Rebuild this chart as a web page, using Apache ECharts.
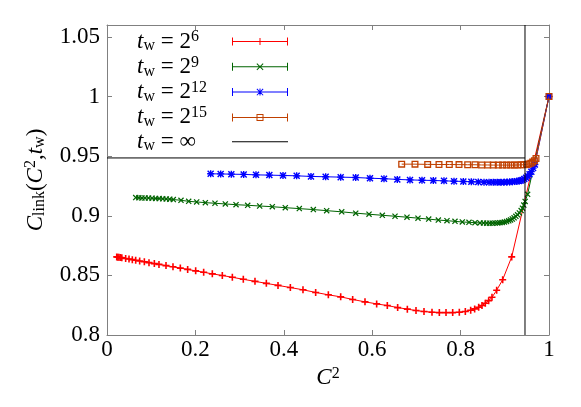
<!DOCTYPE html>
<html>
<head>
<meta charset="utf-8">
<script src="https://cdn.jsdelivr.net/npm/echarts@6/dist/echarts.min.js"></script>
<style>
  html, body { margin: 0; padding: 0; background: #fff; }
  #main { width: 581px; height: 407px; }
</style>
</head>
<body>
<div id="main"></div>
<script>
// C_link(C^2, t_w) curves as [C^2, C_link]
const tw6 = [
  [0.022, 0.8655], [0.0245, 0.8653], [0.027, 0.8652], [0.030, 0.8650], [0.0335, 0.8647],
  [0.0422, 0.8642], [0.0498, 0.8637], [0.0573, 0.8632], [0.0649, 0.8627], [0.0739, 0.8621],
  [0.0845, 0.8614], [0.095, 0.8607], [0.1071, 0.8599], [0.1176, 0.8592], [0.1335, 0.8582],
  [0.1493, 0.8572], [0.1659, 0.8561], [0.1825, 0.8550], [0.2006, 0.8538], [0.2187, 0.8526],
  [0.2383, 0.8513], [0.2609, 0.8499], [0.2836, 0.8484], [0.3084, 0.8467], [0.3348, 0.8450],
  [0.3605, 0.8433], [0.3869, 0.8416], [0.4148, 0.8398], [0.4434, 0.8379], [0.4721, 0.8357],
  [0.5008, 0.8337], [0.5287, 0.8320], [0.5558, 0.8298], [0.5837, 0.8278], [0.6101, 0.8261],
  [0.6342, 0.8247], [0.6576, 0.8230], [0.6795, 0.8217], [0.6991, 0.8205], [0.7172, 0.8197],
  [0.7353, 0.8191], [0.7519, 0.8188], [0.7670, 0.8188], [0.7821, 0.8188], [0.7971, 0.8191],
  [0.8107, 0.8197], [0.8228, 0.8208], [0.8318, 0.8219], [0.8409, 0.8233], [0.8484, 0.8247],
  [0.8559, 0.8266], [0.8635, 0.8288], [0.8710, 0.8316], [0.8816, 0.8375], [0.8952, 0.8464],
  [0.9156, 0.8655], [1.0, 1.0]
];
const tw9 = [
  [0.065, 0.9153], [0.072, 0.9152], [0.079, 0.9150], [0.086, 0.9149], [0.094, 0.9148],
  [0.102, 0.9147], [0.110, 0.9145], [0.118, 0.9144], [0.126, 0.9142], [0.134, 0.9141],
  [0.142, 0.9139], [0.150, 0.9136], [0.1674, 0.9130], [0.1848, 0.9121], [0.2029, 0.9116],
  [0.2225, 0.9110], [0.2443, 0.9105], [0.2677, 0.9099], [0.2919, 0.9093], [0.3183, 0.9088],
  [0.3454, 0.9082], [0.3740, 0.9076], [0.4034, 0.9068], [0.4351, 0.9060], [0.4668, 0.9052],
  [0.4970, 0.9043], [0.5310, 0.9033], [0.5627, 0.9022], [0.5928, 0.9013], [0.6229, 0.9004],
  [0.6516, 0.8996], [0.6787, 0.8988], [0.7036, 0.8980], [0.7278, 0.8972], [0.7496, 0.8964],
  [0.7692, 0.8959], [0.7873, 0.8953], [0.8039, 0.8948], [0.8190, 0.8945], [0.8326, 0.8942],
  [0.8439, 0.8940], [0.852, 0.8939], [0.859, 0.8938], [0.866, 0.8938], [0.872, 0.8938],
  [0.878, 0.8939], [0.884, 0.8940], [0.889, 0.8942], [0.894, 0.8944], [0.899, 0.8947],
  [0.904, 0.8952], [0.909, 0.8958], [0.913, 0.8965], [0.917, 0.8973], [0.921, 0.8983],
  [0.925, 0.8995], [0.929, 0.9008], [0.933, 0.9024], [0.937, 0.9044], [0.940, 0.9064],
  [0.943, 0.9090], [0.946, 0.9120], [0.9516, 0.9180], [1.0, 1.0]
];
const tw12 = [
  [0.2345, 0.9352], [0.2572, 0.9351], [0.2813, 0.9349], [0.3092, 0.9347], [0.3371, 0.9343],
  [0.3673, 0.9341], [0.3982, 0.9338], [0.4291, 0.9335], [0.4615, 0.9330], [0.4947, 0.9327],
  [0.5287, 0.9324], [0.5627, 0.9321], [0.5950, 0.9315], [0.6267, 0.9311], [0.6568, 0.9305],
  [0.6855, 0.9301], [0.7127, 0.9298], [0.7383, 0.9296], [0.7624, 0.9293], [0.7851, 0.9290],
  [0.8062, 0.9288], [0.8243, 0.9285], [0.8400, 0.9284], [0.8530, 0.9282], [0.8643, 0.9282],
  [0.874, 0.9281], [0.883, 0.9281], [0.891, 0.9281], [0.898, 0.9282], [0.905, 0.9283],
  [0.911, 0.9284], [0.917, 0.9286], [0.922, 0.9288], [0.927, 0.9290], [0.932, 0.9292],
  [0.936, 0.9295], [0.940, 0.9300], [0.944, 0.9308], [0.948, 0.9318], [0.952, 0.9332],
  [0.956, 0.9348], [0.960, 0.9370], [0.964, 0.9400], [0.968, 0.9430], [1.0, 1.0]
];
const tw15 = [
  [0.6667, 0.9433], [0.6968, 0.9433], [0.7255, 0.9431], [0.7511, 0.9430], [0.7745, 0.9430],
  [0.7964, 0.9429], [0.8160, 0.9428], [0.8326, 0.9428], [0.8477, 0.9426], [0.8613, 0.9426],
  [0.8740, 0.9425], [0.8853, 0.9425], [0.8952, 0.9425], [0.9042, 0.9425], [0.9133, 0.9425],
  [0.9215, 0.9425], [0.9291, 0.9426], [0.9367, 0.9427], [0.9434, 0.9428], [0.9490, 0.9431],
  [0.9540, 0.9435], [0.9590, 0.9441], [0.9630, 0.9450], [0.9670, 0.9462], [0.9706, 0.9481],
  [1.0, 1.0]
];
// t_w = infinity: plateau value and the C^2 where it ends
const plateauC = 0.9485;
const qEA2 = 0.9457;
const twInf = [[0, plateauC], [qEA2, plateauC]];
const twInfWall = [[qEA2, 0.8], [qEA2, 1.06]];

const names = ['tw6', 'tw9', 'tw12', 'tw15', 'twinf'];
const exps = ['6', '9', '12', '15'];
const colors = ['#ff0000', '#006400', '#0000ff', '#c04000', '#000000'];

const FONT = 'Liberation Serif';

// marker shapes (gnuplot point types), a bit heavy like the original
const plus = 'path://M2.7,0h1.6v7h-1.6z M0,2.7h7v1.6h-7z';
const cross = 'path://M0,1L1,0L7,6L6,7Z M6,0L7,1L1,7L0,6Z';
const star = 'path://M2.8,0h1.4v7h-1.4z M0,2.8h7v1.4h-7z M0,1L1,0L7,6L6,7Z M6,0L7,1L1,7L0,6Z';
const box = 'path://M0,0h7v7h-7z M1.3,1.3v4.4h4.4v-4.4z';

// legend samples: line with error-bar ends and the marker in the middle
const bar = 'M0,3.5h56v1h-56z M0,0h1v8h-1z M55,0h1v8h-1z';
const legendIcons = [
  'path://' + bar + ' M27.5,0.5h1v7h-1z',
  'path://' + bar + ' M24.5,1.2L25.2,0.5L31.5,6.8L30.8,7.5Z M30.8,0.5L31.5,1.2L25.2,7.5L24.5,6.8Z',
  'path://' + bar + ' M27.5,0.5h1v7h-1z M24.5,1.2L25.2,0.5L31.5,6.8L30.8,7.5Z M30.8,0.5L31.5,1.2L25.2,7.5L24.5,6.8Z',
  'path://' + bar + ' M24.5,0.5h7v7h-7z M25.5,1.5v5h5v-5z',
  'path://M0,3.5h56v1h-56z'
];

const rich = {
  it: { fontFamily: FONT, fontSize: 23, fontStyle: 'italic', lineHeight: 25, align: 'left', color: '#000' },
  n: { fontFamily: FONT, fontSize: 23, lineHeight: 25, align: 'left', color: '#000' },
  sub: { fontFamily: FONT, fontSize: 16, lineHeight: 13, verticalAlign: 'bottom', align: 'left', color: '#000' },
  sup: { fontFamily: FONT, fontSize: 16, lineHeight: 5, verticalAlign: 'top', align: 'left', color: '#000' }
};

const legendLabel = (name) => {
  const i = names.indexOf(name);
  if (i === 4) return '{it|t}{sub|w}{n| = ∞}';
  return '{it|t}{sub|w}{n| = 2}{sup|' + exps[i] + '}';
};

const axisGray = '#808080';
const frameAxis = (extra) => Object.assign({
  type: 'value',
  axisLine: { show: true, onZero: false, lineStyle: { color: axisGray, width: 1 } },
  axisTick: { show: true, inside: true, length: 5, lineStyle: { color: axisGray } },
  splitLine: { show: false },
  axisLabel: { show: false }
}, extra);

const chart = echarts.init(document.getElementById('main'), null, { renderer: 'canvas' });

const markerSeries = [tw6, tw9, tw12, tw15].map((d, i) => ({
  name: names[i],
  type: 'line',
  data: d,
  symbol: [plus, cross, star, box][i],
  symbolSize: [7, 6, 7, 7][i],
  showAllSymbol: true,
  color: colors[i],
  lineStyle: { width: 1, color: colors[i] },
  itemStyle: { color: colors[i] },
  z: 2 + i
}));

chart.setOption({
  animation: false,
  backgroundColor: '#fff',
  grid: { left: 107, right: 32, top: 25, bottom: 72, containLabel: false },
  legend: {
    orient: 'vertical',
    left: 137,
    top: 29,
    padding: 0,
    itemGap: 0.3,
    itemWidth: 56,
    itemHeight: 8,
    align: 'right',
    selectedMode: false,
    itemStyle: { borderWidth: 0 },
    data: names.map((n, i) => ({ name: n, icon: legendIcons[i] })),
    formatter: legendLabel,
    textStyle: { width: 90, color: '#000', rich: rich }
  },
  xAxis: [
    frameAxis({
      min: 0, max: 1, interval: 0.2, position: 'bottom',
      axisLabel: { show: true, margin: 3, color: '#000', fontFamily: FONT, fontSize: 23 },
      name: '{it|C}{sup|2}',
      nameLocation: 'middle',
      nameGap: 22,
      nameTextStyle: { color: '#000', rich: rich }
    }),
    frameAxis({ min: 0, max: 1, interval: 0.2, position: 'top' })
  ],
  yAxis: [
    frameAxis({
      min: 0.8, max: 1.06, interval: 0.05, position: 'left',
      axisLabel: { show: true, margin: 7, color: '#000', fontFamily: FONT, fontSize: 23, showMaxLabel: false },
      name: '{it|C}{sub|link}{n|(}{it|C}{sup|2}{n|,}{it|t}{sub|w}{n|)}',
      nameLocation: 'middle',
      nameRotate: 90,
      nameGap: 59,
      nameTextStyle: { color: '#000', rich: rich }
    }),
    frameAxis({ min: 0.8, max: 1.06, interval: 0.05, position: 'right' })
  ],
  series: markerSeries.concat([
    {
      name: 'twinf',
      type: 'line',
      data: twInf,
      symbol: 'none',
      color: colors[4],
      lineStyle: { width: 1, color: colors[4] },
      z: 10
    },
    {
      name: 'twinfWall',
      type: 'line',
      data: twInfWall,
      symbol: 'none',
      lineStyle: { width: 1, color: colors[4] },
      z: 10
    }
  ])
});
</script>
</body>
</html>
